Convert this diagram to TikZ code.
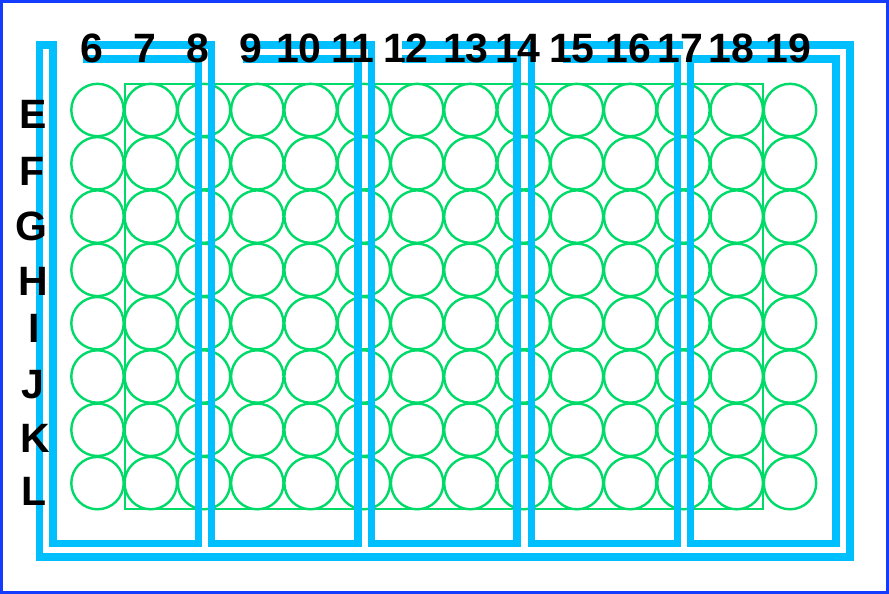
\documentclass[tikz,border=0pt]{standalone}
\usepackage{fontspec}
\setmainfont{Liberation Sans}
\usepackage{tikz}
\definecolor{lanecyan}{RGB}{0,191,255}
\definecolor{wellgreen}{RGB}{0,218,105}
\definecolor{edgeblue}{RGB}{20,60,255}

\begin{document}
\begin{tikzpicture}[x=1pt,y=-1pt,
  well/.style={draw=wellgreen, line width=2.4pt},
  lane/.style={draw=lanecyan, line width=7.5pt},
  lbl/.style={anchor=base, font=\fontsize{41}{41}\selectfont\bfseries}]
\useasboundingbox (0,0) rectangle (889,594);
\draw[edgeblue, line width=3pt] (1.5,1.5) rectangle (887.5,592.5);
% plate
\draw[well] (125,84) rectangle (763,509);
\foreach \c in {0,...,13}
  \foreach \r in {0,...,7}
    \draw[well] ({97.5+53.27*\c},{110+53.3*\r}) circle (26.2);
% lanes
\draw[lane] (722,45) -- (850,45) -- (850,557) -- (39.5,557) -- (39.5,45) -- (53,45) -- (53,543.5) -- (198.5,543.5) -- (198.5,59) -- (83,59);
\draw[lane] (83,45) -- (211.5,45) -- (211.5,543.5) -- (358,543.5) -- (358,59) -- (243,59);
\draw[lane] (243,45) -- (371.5,45) -- (371.5,543.5) -- (517,543.5) -- (517,59) -- (402,59);
\draw[lane] (402,45) -- (531.5,45) -- (531.5,543.5) -- (677.5,543.5) -- (677.5,59) -- (563,59);
\draw[lane] (563,45) -- (683,45);
\draw[lane] (690.5,543.5) -- (690.5,59) -- (836,59) -- (836,543.5) -- cycle;
% column labels
\node[lbl] (c6) at (92,63) {6};
\node[lbl] (c7) at (145,63) {7};
\node[lbl] (c8) at (198,63) {8};
\node[lbl] (c9) at (251,63) {9};
\node[lbl] (c10) at (299,63) {10};
\node[lbl] (c11) at (353,63) {11};
\node[lbl] (c12) at (406,63) {12};
\node[lbl] (c13) at (466,63) {13};
\node[lbl] (c14) at (518,63) {14};
\node[lbl] (c15) at (572,63) {15};
\node[lbl] (c16) at (628,63) {16};
\node[lbl] (c17) at (680,63) {17};
\node[lbl] (c18) at (731,63) {18};
\node[lbl] (c19) at (788,63) {19};
% row labels
\node[lbl] (rE) at (33.5,128) {E};
\node[lbl] (rF) at (32,185) {F};
\node[lbl] (rG) at (31,240) {G};
\node[lbl] (rH) at (33.5,295) {H};
\node[lbl] (rI) at (34,342) {I};
\node[lbl] (rJ) at (32.5,398) {J};
\node[lbl] (rK) at (35,452) {K};
\node[lbl] (rL) at (34,505) {L};
\end{tikzpicture}
\end{document}
